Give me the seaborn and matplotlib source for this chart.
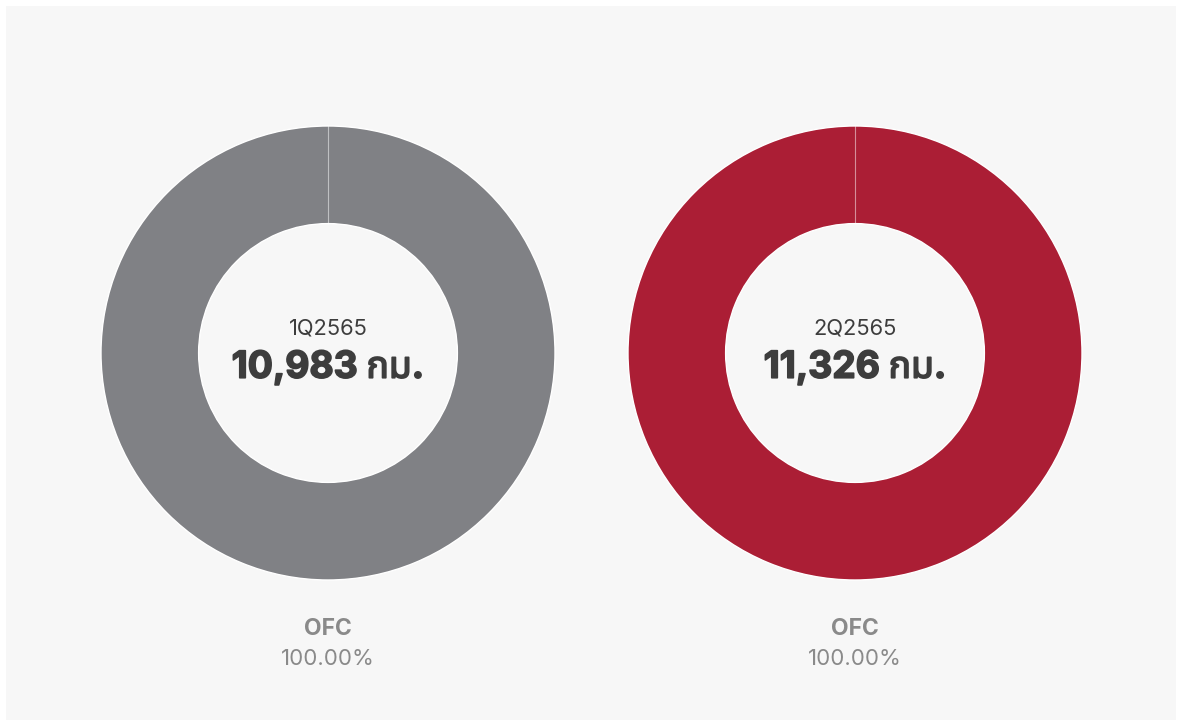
import matplotlib
matplotlib.use("Agg")
import matplotlib.pyplot as plt
import matplotlib.patheffects as pe
import seaborn as sns
from matplotlib.patches import Rectangle

quarters = ["1Q2565", "2Q2565"]
totals = ["10,983", "11,326"]
unit = "กม."
categories = ["OFC"]
shares_q1 = [100.0]
shares_q2 = [100.0]
colors = ["#808185", "#ab1e35"]

sns.set_theme(style="white")
fams = ["Inter", "Noto Sans Thai", "Noto Sans", "DejaVu Sans"]
plt.rcParams["font.family"] = fams

W, H = 1179, 724
fig = plt.figure(figsize=(W / 100, H / 100), dpi=100)
fig.patch.set_facecolor("white")
bg = fig.add_axes([0, 0, 1, 1], zorder=-5)
bg.set_xlim(0, W)
bg.set_ylim(H, 0)
bg.axis("off")
bg.add_patch(Rectangle((6, 6), 1170, 714, facecolor="#f7f7f7", edgecolor="none"))

centers = [328, 855]
R = 227
shares = [shares_q1, shares_q2]
for i in range(2):
    cx, cy = centers[i], 353
    ax = fig.add_axes([(cx - R) / W, (H - cy - R) / H, 2 * R / W, 2 * R / H], zorder=2)
    ax.set_facecolor("none")
    ax.pie(shares[i], colors=[colors[i]], startangle=90, counterclock=False,
           radius=1.0, wedgeprops=dict(width=0.43, edgecolor="white", linewidth=1.0))
    ax.plot([0, 0], [0.57, 1.0], color="white", lw=0.8, alpha=0.5)
    ax.set_xlim(-1, 1)
    ax.set_ylim(-1, 1)
    ax.set_aspect("equal")
    ax.axis("off")
    ax.text(0, 0.11, quarters[i], ha="center", va="center", fontsize=15.8,
            color="#3d3d3d", family=fams)
    ax.text(0, -0.065, f"{totals[i]} {unit}", ha="center", va="center", fontsize=26.8,
            fontweight="bold", color="#3d3d3d", family=fams,
            path_effects=[pe.withStroke(linewidth=1.2, foreground="#3d3d3d")])
    bg.text(cx, 629, categories[0], ha="center", va="center",
            fontsize=16.5, fontweight="bold", color="#8a8a8a", family=fams)
    bg.text(cx, 659, f"{shares[i][0]:.2f}%", ha="center", va="center",
            fontsize=16, color="#8a8a8a", family=fams)

fig.savefig("out.png", dpi=100, facecolor="white")
